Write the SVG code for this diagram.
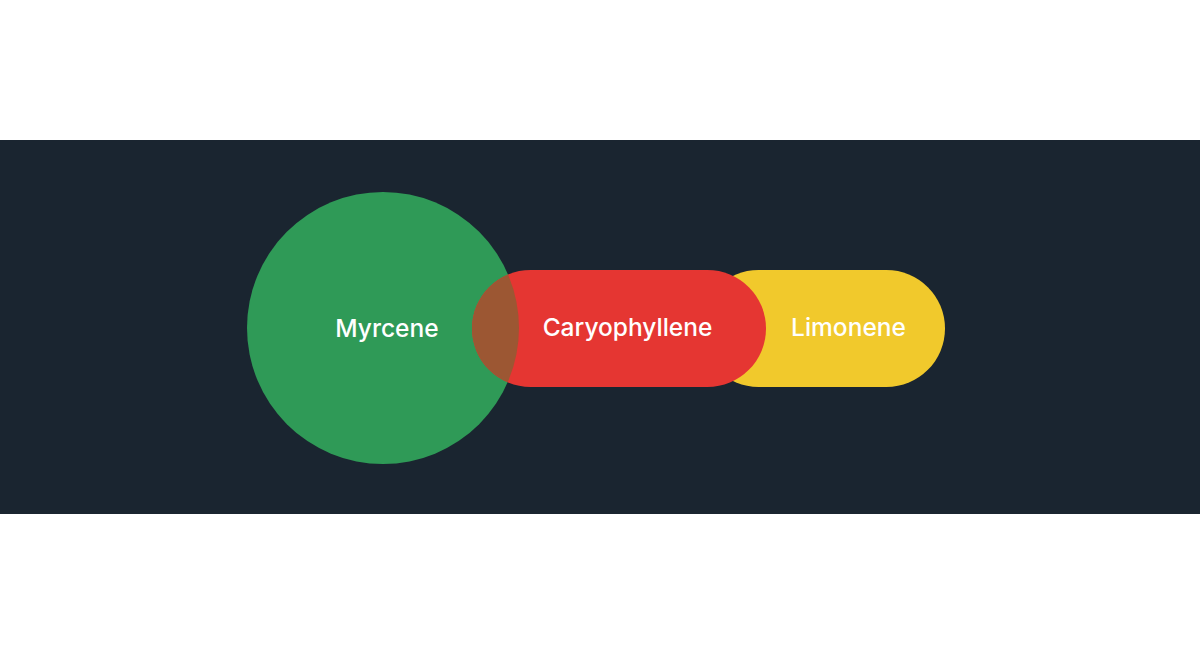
<svg xmlns="http://www.w3.org/2000/svg" width="1200" height="655" viewBox="0 0 1200 655">
  <style>
    .lbl { font-family: Inter, "Open Sans", "Liberation Sans", sans-serif; font-size: 24.5px; font-weight: 500; fill: #ffffff; text-anchor: middle; }
  </style>
  <defs>
    <clipPath id="circClip">
      <circle cx="383" cy="328" r="136"/>
    </clipPath>
  </defs>
  <rect x="0" y="0" width="1200" height="655" fill="#ffffff"/>
  <rect x="0" y="140" width="1200" height="374" fill="#1a2530"/>
  <g id="connectors"></g>
  <g id="limonene">
    <rect x="700" y="270" width="245" height="117" rx="58.5" fill="#f1c92c"/>
    <text class="lbl" x="848.5" y="336">Limonene</text>
  </g>
  <g id="myrcene">
    <circle cx="383" cy="328" r="136" fill="#2f9a57"/>
    <text class="lbl" x="387" y="337">Myrcene</text>
  </g>
  <g id="caryophyllene">
    <rect x="472" y="270" width="294" height="117" rx="58.5" fill="#e53632"/>
    <rect x="472" y="270" width="294" height="117" rx="58.5" fill="#9c5733" clip-path="url(#circClip)"/>
    <text class="lbl" x="627.5" y="336">Caryophyllene</text>
  </g>
</svg>
